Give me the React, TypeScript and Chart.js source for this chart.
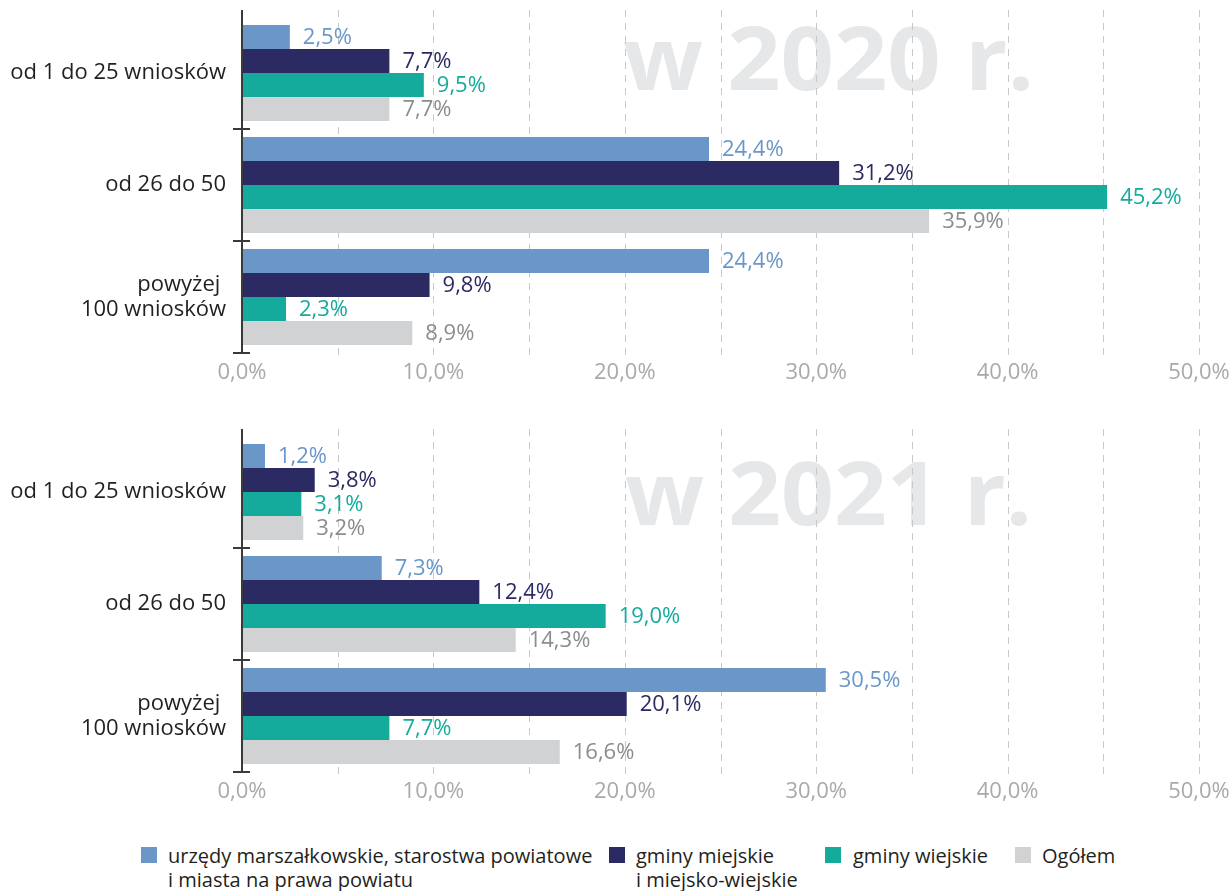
import React, { useEffect, useRef } from 'react';
import { Chart, registerables } from 'chart.js';

Chart.register(...registerables);

// ---------- data ----------
const categories: (string | string[])[] = ['od 1 do 25 wniosków', 'od 26 do 50', ['powyżej ', '100 wniosków']];

const seriesNames = [
  'urzędy marszałkowskie, starostwa powiatowe\ni miasta na prawa powiatu',
  'gminy miejskie\ni miejsko-wiejskie',
  'gminy wiejskie',
  'Ogółem',
];

const urzedy2020 = [2.5, 24.4, 24.4];
const gminyMiejskie2020 = [7.7, 31.2, 9.8];
const gminyWiejskie2020 = [9.5, 45.2, 2.3];
const ogolem2020 = [7.7, 35.9, 8.9];

const urzedy2021 = [1.2, 7.3, 30.5];
const gminyMiejskie2021 = [3.8, 12.4, 20.1];
const gminyWiejskie2021 = [3.1, 19.0, 7.7];
const ogolem2021 = [3.2, 14.3, 16.6];

const xTickValues = [0, 10, 20, 30, 40, 50];
const gridValues = [5, 10, 15, 20, 25, 30, 35, 40, 45, 50];

const barColors = ['#6a96c8', '#2b2a63', '#14aa9c', '#d1d2d4'];
const valueLabelColors = ['#6a96c8', '#2b2a63', '#14aa9c', '#8a8c8e'];

const FONT = '"Open Sans", "Noto Sans", sans-serif';

const fmt = (v: number) => v.toFixed(1).replace('.', ',') + '%';

const decoPlugin = {
  id: 'deco',
  beforeDatasetsDraw(chart: any, _args: any, opts: any) {
    const ctx = chart.ctx as CanvasRenderingContext2D;
    const { top, bottom } = chart.chartArea;
    const xs = chart.scales.x;
    // watermark
    ctx.save();
    ctx.font = `700 ${opts.wmSize}px ${FONT}`;
    const w = ctx.measureText(opts.watermark).width;
    ctx.translate(opts.wmX, opts.wmY);
    ctx.scale(opts.wmWidth / w, 1);
    ctx.fillStyle = '#e6e7e8';
    ctx.textBaseline = 'alphabetic';
    ctx.textAlign = 'left';
    ctx.fillText(opts.watermark, 0, 0);
    ctx.restore();
    // dashed grid
    ctx.save();
    ctx.strokeStyle = '#c8c8c8';
    ctx.lineWidth = 1;
    ctx.setLineDash([7, 6]);
    gridValues.forEach((v) => {
      const px = Math.round(xs.getPixelForValue(v)) + 0.5;
      ctx.beginPath();
      ctx.moveTo(px, top - 7);
      ctx.lineTo(px, bottom + 7);
      ctx.stroke();
    });
    ctx.restore();
  },
  afterDatasetsDraw(chart: any) {
    const ctx = chart.ctx as CanvasRenderingContext2D;
    const { top, bottom, left } = chart.chartArea;
    const ys = chart.scales.y;
    ctx.save();
    ctx.strokeStyle = '#3a3a3a';
    ctx.lineWidth = 2;
    ctx.beginPath();
    ctx.moveTo(left, top - 7);
    ctx.lineTo(left, bottom);
    ctx.stroke();
    for (let i = 1; i <= categories.length; i++) {
      const yy = Math.round(ys.getPixelForValue(i - 0.5));
      ctx.beginPath();
      ctx.moveTo(left - 9, yy);
      ctx.lineTo(left + 8, yy);
      ctx.stroke();
    }
    ctx.restore();
    // value labels
    ctx.save();
    ctx.font = `22px ${FONT}`;
    ctx.textBaseline = 'middle';
    ctx.textAlign = 'left';
    chart.data.datasets.forEach((ds: any, di: number) => {
      const meta = chart.getDatasetMeta(di);
      ctx.fillStyle = valueLabelColors[di];
      meta.data.forEach((bar: any, i: number) => {
        ctx.fillText(fmt(ds.data[i]), bar.x + 13, bar.y + 1);
      });
    });
    ctx.restore();
  },
};

function makeConfig(series: number[][], watermark: string, wmY: number, wmX: number, wmWidth: number): any {
  return {
    type: 'bar',
    data: {
      labels: categories,
      datasets: series.map((d, i) => ({
        label: seriesNames[i],
        data: d,
        backgroundColor: barColors[i],
        borderWidth: 0,
        categoryPercentage: 0.857,
        barPercentage: 1,
      })),
    },
    plugins: [decoPlugin],
    options: {
      indexAxis: 'y',
      responsive: false,
      animation: false,
      layout: { padding: { top: 17, left: 0, right: 32, bottom: 0 } },
      plugins: {
        legend: { display: false },
        tooltip: { enabled: false },
        deco: { watermark, wmY, wmX, wmWidth, wmSize: 88 },
      },
      scales: {
        x: {
          type: 'linear',
          min: 0,
          max: 50,
          afterBuildTicks: (scale: any) => {
            scale.ticks = xTickValues.map((v) => ({ value: v }));
          },
          afterFit: (scale: any) => {
            scale.height = 47;
            scale.paddingLeft = 0;
            scale.paddingRight = 0;
          },
          grid: { display: false, drawTicks: false },
          border: { display: false },
          ticks: {
            padding: 7,
            color: '#a7a9ac',
            font: { family: FONT, size: 22 },
            callback: (v: number) => fmt(v),
          },
        },
        y: {
          type: 'category',
          afterFit: (scale: any) => {
            scale.width = 242;
            scale.paddingTop = 0;
            scale.paddingBottom = 0;
          },
          grid: { display: false, drawTicks: false },
          border: { display: false },
          ticks: {
            padding: 16,
            color: '#231f20',
            font: { family: FONT, size: 22, lineHeight: 1.15 },
          },
        },
      },
    },
  };
}

function BarChart({ series, watermark, wmY, wmX, wmWidth, top }: any) {
  const ref = useRef<HTMLCanvasElement | null>(null);
  useEffect(() => {
    if (!ref.current) return;
    const chart = new Chart(ref.current, makeConfig(series, watermark, wmY, wmX, wmWidth));
    return () => chart.destroy();
  }, []);
  return (
    <canvas
      ref={ref}
      width={1231}
      height={400}
      style={{ position: 'absolute', left: 0, top, width: 1231, height: 400 }}
    />
  );
}

const legendItems = [
  { square: 141, text: 168 },
  { square: 609, text: 636 },
  { square: 825, text: 853 },
  { square: 1015, text: 1042 },
];

export default function App() {
  return (
    <div
      style={{
        position: 'absolute',
        left: 0,
        top: 0,
        width: 1231,
        height: 891,
        background: '#fff',
        fontFamily: FONT,
        overflow: 'hidden',
      }}
    >
      <BarChart
        series={[urzedy2020, gminyMiejskie2020, gminyWiejskie2020, ogolem2020]}
        watermark="w 2020 r."
        wmX={623}
        wmY={90}
        wmWidth={411}
        top={0}
      />
      <BarChart
        series={[urzedy2021, gminyMiejskie2021, gminyWiejskie2021, ogolem2021]}
        watermark="w 2021 r."
        wmX={625}
        wmY={106}
        wmWidth={407}
        top={419}
      />
      {seriesNames.map((name, i) => (
        <div key={i}>
          <div
            style={{
              position: 'absolute',
              left: legendItems[i].square,
              top: 847,
              width: 16,
              height: 16,
              background: barColors[i],
            }}
          />
          <div
            style={{
              position: 'absolute',
              left: legendItems[i].text,
              top: 844,
              fontSize: 20,
              lineHeight: '24px',
              color: '#231f20',
              whiteSpace: 'pre',
            }}
          >
            {name}
          </div>
        </div>
      ))}
    </div>
  );
}
